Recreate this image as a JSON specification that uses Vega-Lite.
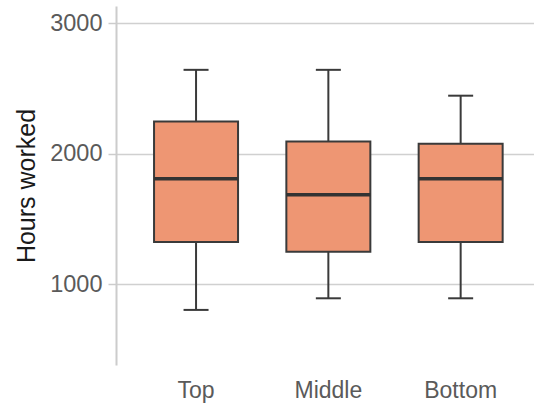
{
  "$schema": "https://vega.github.io/schema/vega-lite/v6.json",
  "autosize": {"type": "none"},
  "padding": {"left": 116, "top": 6, "right": 0, "bottom": 38},
  "width": 418,
  "height": 359,
  "background": "white",
  "config": {"view": {"stroke": null}},
  "data": {
    "values": [
      {"group": "Top", "lower": 804, "q1": 1325, "median": 1809, "q3": 2247, "upper": 2643},
      {"group": "Middle", "lower": 893, "q1": 1249, "median": 1687, "q3": 2094, "upper": 2643},
      {"group": "Bottom", "lower": 893, "q1": 1325, "median": 1809, "q3": 2076, "upper": 2445}
    ]
  },
  "encoding": {
    "x": {
      "field": "group",
      "type": "nominal",
      "sort": ["Top", "Middle", "Bottom"],
      "scale": {"range": [0, 424.7], "paddingInner": 0, "paddingOuter": 0.105},
      "axis": {
        "title": null,
        "domain": false,
        "ticks": false,
        "labelAngle": 0,
        "labelFont": "Liberation Sans",
        "labelFontSize": 23,
        "labelColor": "#5a5a5a",
        "labelPadding": 14
      }
    }
  },
  "layer": [
    {
      "mark": {"type": "rule", "color": "#3a3a3a", "strokeWidth": 2},
      "encoding": {
        "y": {
          "field": "lower",
          "type": "quantitative",
          "scale": {"domain": [382, 3132], "nice": false, "zero": false},
          "axis": {
            "values": [1000, 2000, 3000],
            "format": "d",
            "title": "Hours worked",
            "titleFont": "Liberation Sans",
            "titleFontSize": 25,
            "titleFontWeight": "normal",
            "titleColor": "#1a1a1a",
            "titlePadding": 10,
            "labelFont": "Liberation Sans",
            "labelFontSize": 23.5,
            "labelColor": "#5a5a5a",
            "labelPadding": 6,
            "grid": true,
            "gridColor": "#d0d0d0",
            "gridWidth": 1.5,
            "domain": true,
            "domainColor": "#cccccc",
            "domainWidth": 2,
            "tickColor": "#cccccc",
            "tickWidth": 1.5,
            "tickSize": 8
          }
        },
        "y2": {"field": "upper"}
      }
    },
    {
      "mark": {"type": "bar", "width": 84, "fill": "#EE9673", "stroke": "#3a3a3a", "strokeWidth": 2},
      "encoding": {
        "y": {"field": "q1", "type": "quantitative"},
        "y2": {"field": "q3"}
      }
    },
    {
      "mark": {"type": "tick", "color": "#333333", "size": 84, "thickness": 3.5, "opacity": 1},
      "encoding": {
        "y": {"field": "median", "type": "quantitative"}
      }
    },
    {
      "mark": {"type": "tick", "color": "#3a3a3a", "size": 25, "thickness": 2, "opacity": 1},
      "encoding": {
        "y": {"field": "lower", "type": "quantitative"}
      }
    },
    {
      "mark": {"type": "tick", "color": "#3a3a3a", "size": 25, "thickness": 2, "opacity": 1},
      "encoding": {
        "y": {"field": "upper", "type": "quantitative"}
      }
    }
  ]
}
